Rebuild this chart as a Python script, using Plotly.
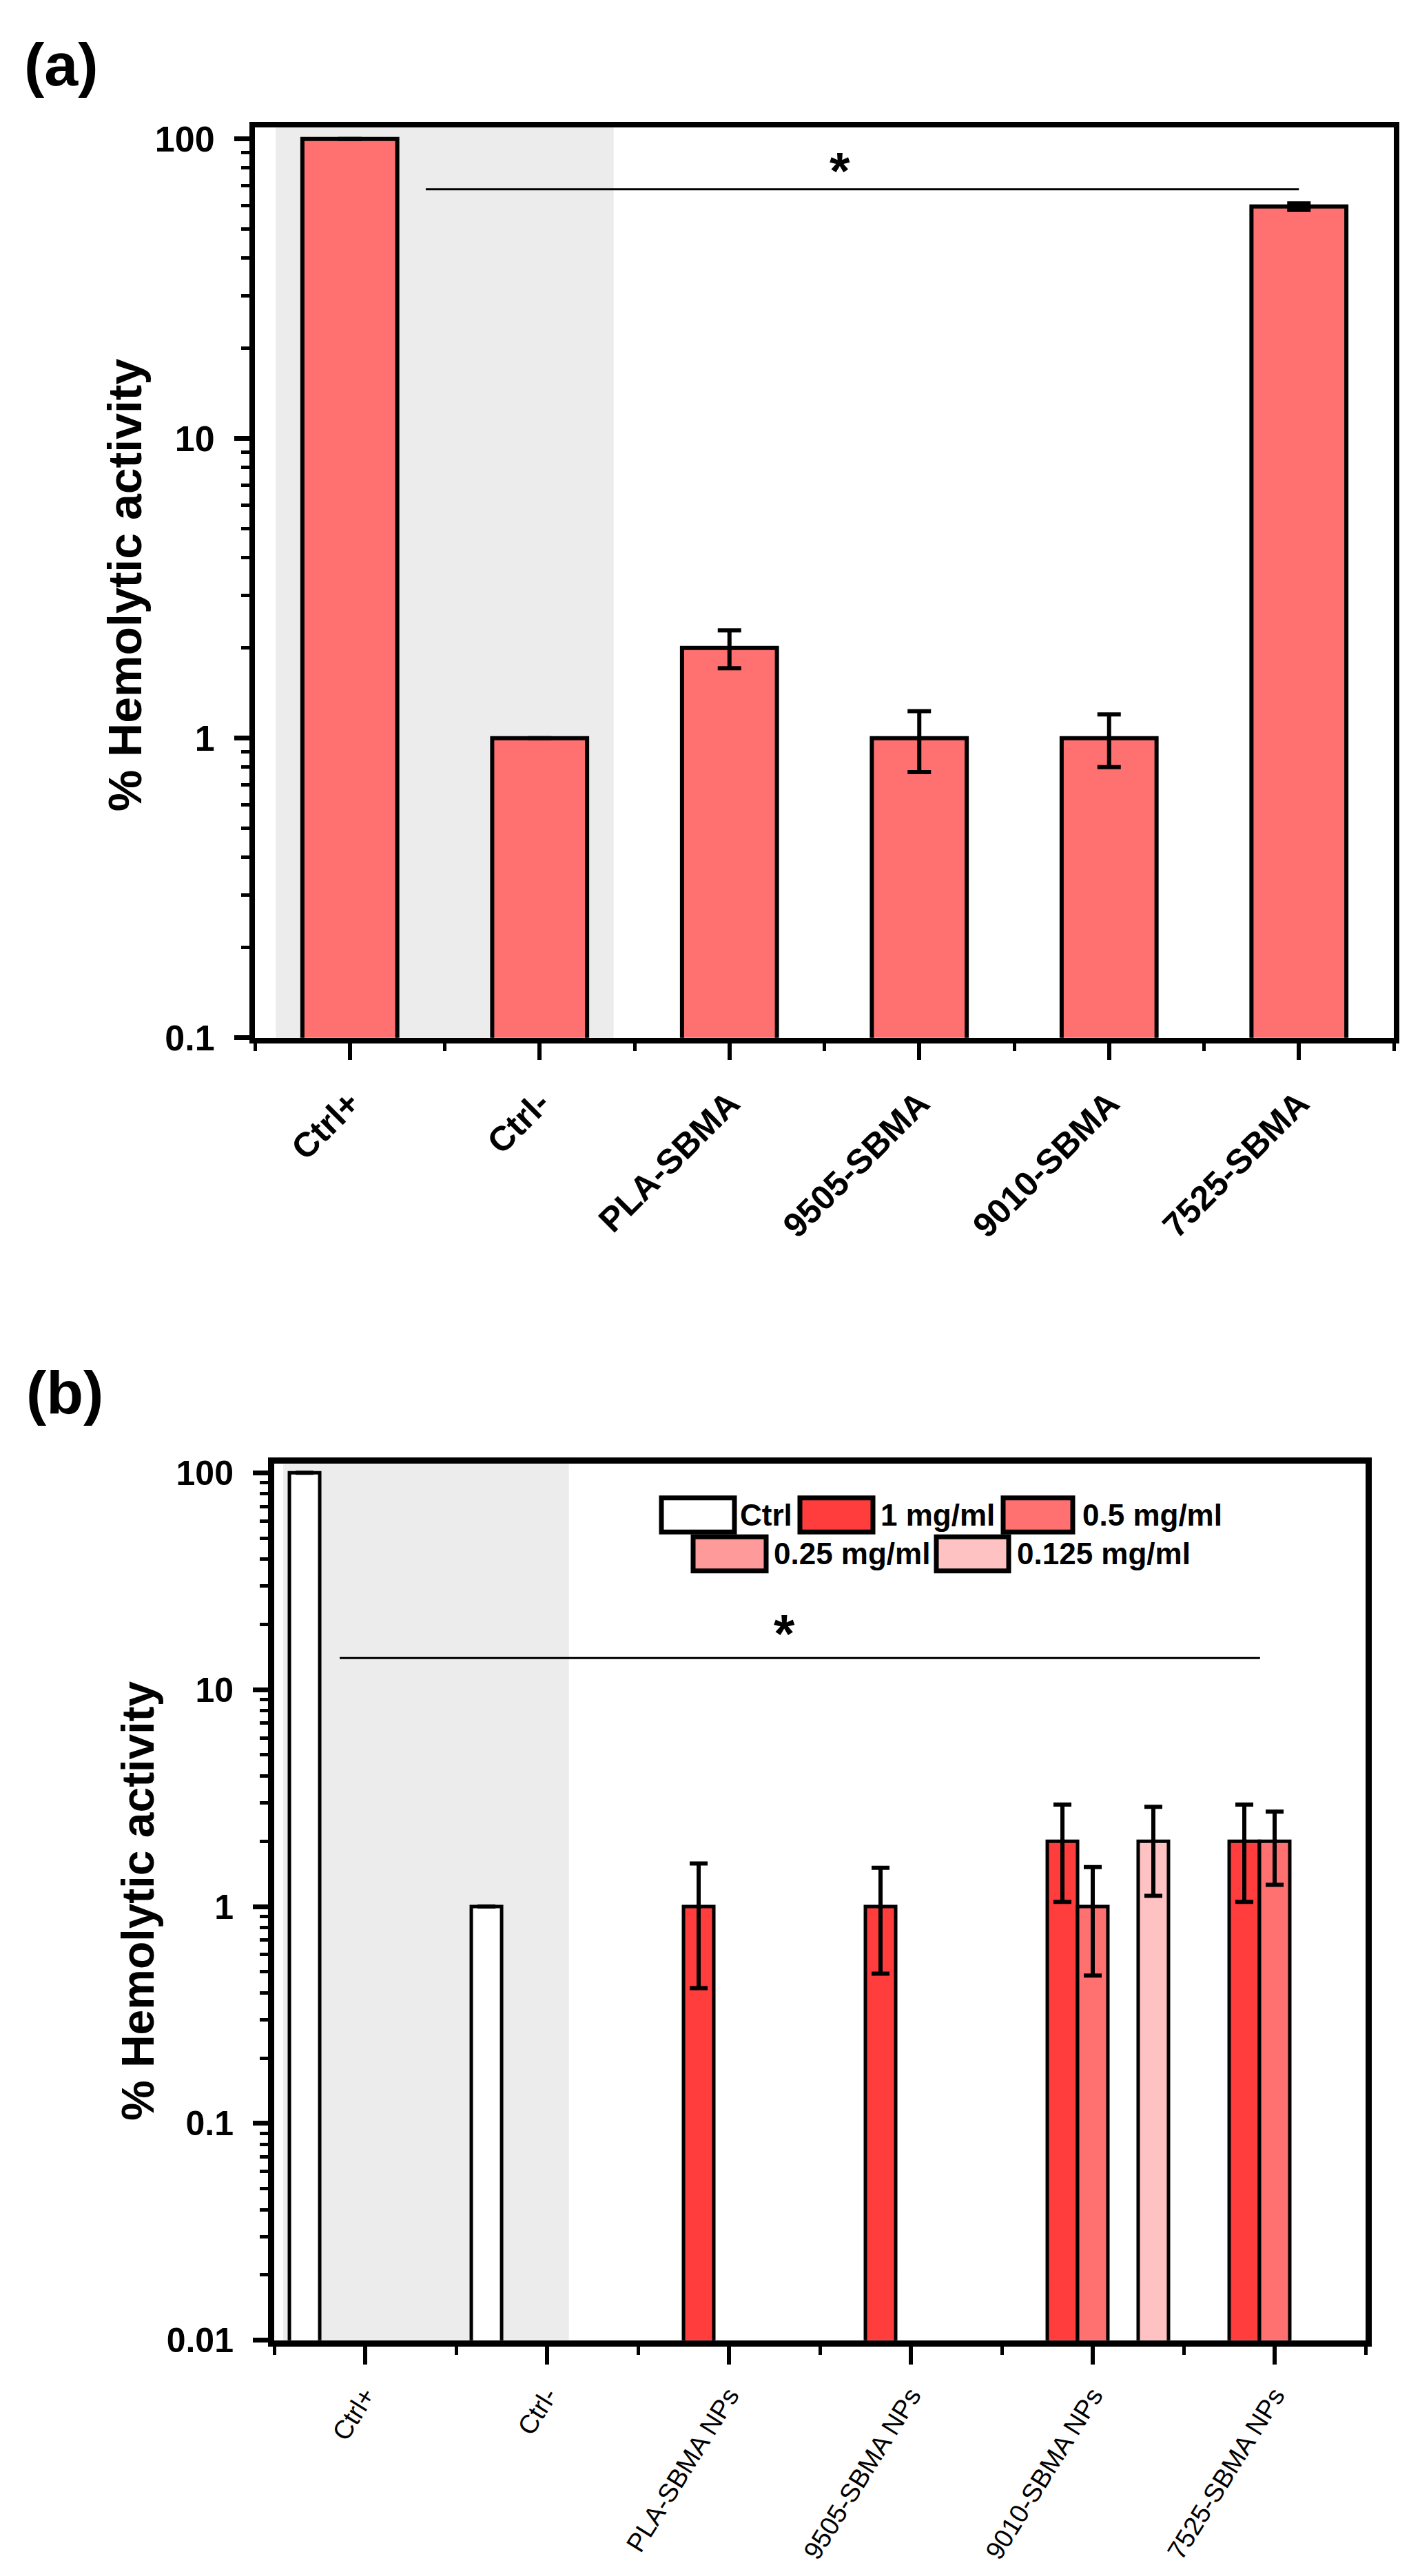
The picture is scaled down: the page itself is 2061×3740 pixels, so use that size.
import plotly.graph_objects as go
from plotly.subplots import make_subplots

W, H = 2061, 3740

# ---- panel (a) data ----
cats_a = ["Ctrl+", "Ctrl-", "PLA-SBMA", "9505-SBMA", "9010-SBMA", "7525-SBMA"]
hemo_a = [100, 1, 2, 1, 1, 59.5]
err_a = [0, 0, 0.29, 0.23, 0.2, 1.5]
sig_a_x = [0.4, 5.0]
sig_a_y = [68, 68]

# ---- panel (b) data ----
cats_b = ["Ctrl+", "Ctrl-", "PLA-SBMA NPs", "9505-SBMA NPs", "9010-SBMA NPs", "7525-SBMA NPs"]
series_b = ["Ctrl", "1 mg/ml", "0.5 mg/ml", "0.25 mg/ml", "0.125 mg/ml"]
hemo_b = {
    "Ctrl": [100, 1, None, None, None, None],
    "1 mg/ml": [None, None, 1, 1, 2, 2],
    "0.5 mg/ml": [None, None, None, None, 1, 2],
    "0.25 mg/ml": [None, None, None, None, None, None],
    "0.125 mg/ml": [None, None, None, None, 2, None],
}
err_b = {
    "Ctrl": [None] * 6,
    "1 mg/ml": [None, None, 0.58, 0.51, 0.95, 0.95],
    "0.5 mg/ml": [None, None, None, None, 0.52, 0.74],
    "0.25 mg/ml": [None] * 6,
    "0.125 mg/ml": [None, None, None, None, 0.88, None],
}
colors_b = {
    "Ctrl": "#ffffff",
    "1 mg/ml": "#ff3d3d",
    "0.5 mg/ml": "#ff7070",
    "0.25 mg/ml": "#ff9a9a",
    "0.125 mg/ml": "#ffc2c2",
}
sig_b_x = [-0.14, 4.92]
sig_b_y = [14, 14]

FONT = "Liberation Sans, Arial, sans-serif"
BAR_A = "#ff7070"
SHADE = "#ececec"


def px_x(v):
    return v / W


def px_y(v):
    return 1 - v / H


def label(text, x, y, size, bold=True, angle=0, xanchor="center"):
    font = dict(family=FONT, size=size, color="black")
    if bold:
        font["weight"] = "bold"
    return dict(text=text, x=px_x(x), y=px_y(y), xref="paper", yref="paper",
                showarrow=False, xanchor=xanchor, yanchor="middle",
                textangle=angle, font=font)


fig = make_subplots(rows=2, cols=1)

xa = list(range(len(cats_a)))
xb = list(range(len(cats_b)))

# panel (a) bars
fig.add_trace(go.Bar(x=xa, y=hemo_a, width=0.5, name="Hemolysis",
                     marker=dict(color=BAR_A, line=dict(color="black", width=6)),
                     error_y=dict(type="data", array=err_a, symmetric=True,
                                  color="black", thickness=6, width=17),
                     showlegend=False), row=1, col=1)
fig.add_trace(go.Scatter(x=sig_a_x, y=sig_a_y, mode="lines",
                         line=dict(color="black", width=3), showlegend=False,
                         hoverinfo="skip"), row=1, col=1)

# panel (b) grouped bars
for s in series_b:
    fig.add_trace(go.Bar(x=xb, y=hemo_b[s], name=s,
                         marker=dict(color=colors_b[s], line=dict(color="black", width=5)),
                         error_y=dict(type="data", array=err_b[s], symmetric=True,
                                      color="black", thickness=6, width=13),
                         showlegend=False), row=2, col=1)
fig.add_trace(go.Scatter(x=sig_b_x, y=sig_b_y, mode="lines",
                         line=dict(color="black", width=3), showlegend=False,
                         hoverinfo="skip"), row=2, col=1)

axis_common = dict(showgrid=False, zeroline=False, showline=True, mirror=True,
                   linecolor="black", ticks="outside", tickcolor="black")

fig.update_xaxes(axis_common, row=1, col=1,
                 domain=[px_x(370), px_x(2023)], range=[-0.5, 5.5],
                 tickmode="array", tickvals=xa, ticktext=cats_a, tickangle=-45,
                 linewidth=8, ticklen=24, tickwidth=6, ticklabelstandoff=14,
                 tickfont=dict(family=FONT, size=50, color="black", weight="bold"),
                 minor=dict(ticks="outside", tick0=-0.5, dtick=1, ticklen=11,
                            tickwidth=5, tickcolor="black"))
fig.update_yaxes(axis_common, row=1, col=1,
                 domain=[px_y(1510), px_y(173)], type="log", range=[-1, 2.0386],
                 tickmode="array", tickvals=[0.1, 1, 10, 100],
                 ticktext=["0.1", "1", "10", "100"],
                 linewidth=8, ticklen=22, tickwidth=7, ticklabelstandoff=18,
                 tickfont=dict(family=FONT, size=52, color="black", weight="bold"),
                 minor=dict(ticks="outside", dtick="D1", ticklen=12,
                            tickwidth=5, tickcolor="black"))

fig.update_xaxes(axis_common, row=2, col=1,
                 domain=[px_x(398), px_x(1982)], range=[-0.5, 5.5],
                 tickmode="array", tickvals=xb, ticktext=cats_b, tickangle=-58,
                 linewidth=9, ticklen=26, tickwidth=6, ticklabelstandoff=8,
                 tickfont=dict(family=FONT, size=38, color="black"),
                 minor=dict(ticks="outside", tick0=-0.5, dtick=1, ticklen=12,
                            tickwidth=5, tickcolor="black"))
fig.update_yaxes(axis_common, row=2, col=1,
                 domain=[px_y(3423), px_y(2136)], type="log", range=[-2, 2.041],
                 tickmode="array", tickvals=[0.01, 0.1, 1, 10, 100],
                 ticktext=["0.01", "0.1", "1", "10", "100"],
                 linewidth=9, ticklen=22, tickwidth=7, ticklabelstandoff=18,
                 tickfont=dict(family=FONT, size=50, color="black", weight="bold"),
                 minor=dict(ticks="outside", dtick="D1", ticklen=12,
                            tickwidth=5, tickcolor="black"))

# grey control regions
fig.add_shape(type="rect", xref="x", yref="y domain", x0=-0.39, x1=1.39, y0=0, y1=1,
              fillcolor=SHADE, line_width=0, layer="below")
fig.add_shape(type="rect", xref="x2", yref="y2 domain", x0=-0.45, x1=1.12, y0=0, y1=1,
              fillcolor=SHADE, line_width=0, layer="below")

anns = [
    label("(a)", 89, 80, 88),
    label("(b)", 94, 2031, 88),
    label("% Hemolytic activity", 181, 845, 68, angle=-90),
    label("% Hemolytic activity", 200, 2778, 66, angle=-90),
    label("*", 1219, 236, 76),
    label("*", 1138, 2385, 78),
]

# legend for panel (b): box x0, x1, text x, row centre y (pixels)
legend_pos = {
    "Ctrl": (960, 1066, 1072, 2211),
    "1 mg/ml": (1161, 1267, 1276, 2211),
    "0.5 mg/ml": (1456, 1557, 1569, 2211),
    "0.25 mg/ml": (1006, 1112, 1121, 2268),
    "0.125 mg/ml": (1359, 1464, 1474, 2268),
}
for s in series_b:
    bx0, bx1, tx, cy = legend_pos[s]
    fig.add_shape(type="rect", xref="paper", yref="paper",
                  x0=px_x(bx0), x1=px_x(bx1), y0=px_y(cy + 25), y1=px_y(cy - 25),
                  fillcolor=colors_b[s], line=dict(color="black", width=7))
    anns.append(label(s, tx, cy, 44, xanchor="left"))

fig.update_layout(width=W, height=H, margin=dict(l=0, r=0, t=0, b=0),
                  paper_bgcolor="white", plot_bgcolor="white",
                  barmode="group", bargap=0.167, bargroupgap=0,
                  annotations=anns, showlegend=False)

fig.write_html("out.html", config={"displayModeBar": False},
               post_script="document.body.style.margin='0';")
